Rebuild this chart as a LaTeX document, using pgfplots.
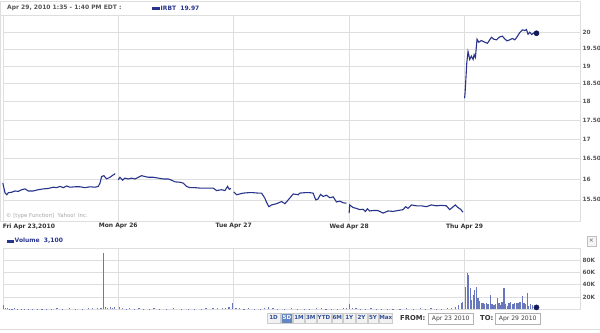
\documentclass[border=0pt]{standalone}
\usepackage{pgfplots}
\pgfplotsset{compat=1.18}
\usepackage{fontspec}
\setmainfont{DejaVu Sans}
\definecolor{pline}{RGB}{40,52,140}
\definecolor{pdot}{RGB}{20,26,90}
\definecolor{vbar}{RGB}{105,120,188}
\definecolor{gridc}{RGB}{222,222,222}
\definecolor{tickc}{RGB}{85,85,85}
\definecolor{btnblue}{RGB}{50,80,150}
\newcommand{\fs}[1]{\fontsize{#1bp}{#1bp}\selectfont}
\begin{document}
\begin{tikzpicture}
\path[use as bounding box] (0,0) rectangle (600bp,-333bp);
\fill[white] (0,0) rectangle (600bp,-333bp);
\begin{scope}[x=1bp,y=-1bp]
\draw[gridc] (0.5,1.5) rectangle (580,221);
\draw[gridc] (0.5,15) -- (580,15);
\node[anchor=west,text=tickc,inner sep=0] at (7,8) {\fs{6}\bfseries Apr 29, 2010 1:35 - 1:40 PM EDT :};
\fill[pline] (152,6.6) rectangle (160,9.6);
\node[anchor=west,text=pline,inner sep=0] at (160.5,8) {\fs{6}\bfseries IRBT\ \ 19.97};
\fill[pline] (7,239.8) rectangle (14,242.8);
\node[anchor=west,text=pline,inner sep=0] at (14.5,241) {\fs{6}\bfseries Volume\ \ 3,100};
\node[anchor=west,text=gray!70,inner sep=0] at (6,216.5) {\fs{5.4}© [type Function]\ \ Yahoo! Inc.};
\draw[gray!50,fill=gray!8] (587,236) rectangle (596,246);
\node[text=gray!70!black,inner sep=0] at (591.5,241) {\fs{6}×};
\draw[gridc] (0,329) -- (600,329);
% buttons
\foreach \a/\b/\t in {266.7/280.5/1D,293.5/304.5/1M,305.5/316/3M,317/331/YTD,332/342.5/6M,343.5/355/1Y,356/367/2Y,368/378/5Y,379/392.5/Max}{
  \draw[gray!40,fill=gray!10] (\a,312.7) rectangle (\b,322.7);
  \node[text=btnblue,inner sep=0] at ({(\a+\b)/2},317.9) {\fs{5.6}\bfseries \t};
}
\draw[gray!40,fill={rgb,255:red,100;green,135;blue,195}] (281.5,312.7) rectangle (292.5,322.7);
\node[text=white,inner sep=0] at (287,317.9) {\fs{5.6}\bfseries 5D};
\node[anchor=west,text=black!80,inner sep=0] at (400,318.5) {\fs{6.8}\bfseries FROM:};
\draw[gray!60] (428,313) rectangle (473.5,324);
\node[text=black!75,inner sep=0] at (450.7,318.7) {\fs{6.1}Apr 23 2010};
\node[anchor=west,text=black!80,inner sep=0] at (480,318.5) {\fs{6.8}\bfseries TO:};
\draw[gray!60] (495,313) rectangle (540.5,324);
\node[text=black!75,inner sep=0] at (517.7,318.7) {\fs{6.1}Apr 29 2010};
\end{scope}

\begin{axis}[at={(2.8bp,-15bp)}, anchor=north west, scale only axis,
  width=577.2bp, height=206bp,
  xmin=0, xmax=5, ymode=log, ymin=15.01, ymax=20.53,
  xtick={0,1,2,3,4},
  xticklabels={{\makebox[0pt][l]{Fri Apr 23,2010}},{Mon Apr 26},{Tue Apr 27},{Wed Apr 28},{Thu Apr 29}},
  ytick={15.5,16,16.5,17,17.5,18,18.5,19,19.5,20},
  yticklabels={15.50,16,16.50,17,17.50,18,18.50,19,19.50,20},
  yticklabel pos=right,
  grid=major, major grid style={gridc, line width=0.6bp},
  axis line style={gridc}, tick style={draw=none},
  xticklabel style={font=\fs{6}\bfseries, text=black!80, yshift=1bp},
  yticklabel style={font=\fs{5.8}\bfseries, text=tickc, anchor=west, xshift=-1bp},
  /pgf/number format/assume math mode=true,
  clip=false]
\addplot[pline, line width=1.1bp] coordinates {
(0.0,15.90)(0.02,15.66)(0.035,15.62)(0.048,15.67)(0.077,15.68)(0.106,15.71)(0.135,15.70)
(0.164,15.74)(0.192,15.76)(0.221,15.71)(0.264,15.71)(0.308,15.74)(0.351,15.76)(0.394,15.77)
(0.438,15.80)(0.466,15.79)(0.495,15.82)(0.524,15.79)(0.553,15.83)(0.582,15.80)(0.625,15.81)
(0.669,15.81)(0.712,15.79)(0.755,15.81)(0.799,15.80)(0.827,15.82)(0.842,15.90)(0.856,16.06)
(0.876,16.08)(0.899,16.00)(0.928,16.04)(0.957,16.10)(0.974,16.13)};
\addplot[pline, line width=1.1bp] coordinates {
(1.0,15.98)(1.015,16.04)(1.038,15.97)(1.058,16.02)(1.087,16.00)(1.116,16.02)(1.145,16.00)
(1.173,16.04)(1.202,16.08)(1.231,16.06)(1.260,16.04)(1.303,16.04)(1.347,16.02)(1.390,16.00)
(1.433,16.00)(1.462,15.97)(1.491,15.93)(1.534,15.92)(1.563,15.90)(1.592,15.82)(1.621,15.79)
(1.664,15.79)(1.707,15.78)(1.765,15.78)(1.823,15.78)(1.852,15.72)(1.895,15.74)(1.924,15.72)
(1.947,15.82)(1.962,15.75)(1.976,15.77)};
\addplot[pline, line width=1.1bp] coordinates {
(2.0,15.69)(2.025,15.62)(2.054,15.64)(2.083,15.66)(2.126,15.67)(2.170,15.67)(2.213,15.66)
(2.241,15.66)(2.270,15.54)(2.285,15.44)(2.305,15.34)(2.328,15.38)(2.372,15.41)(2.415,15.46)
(2.444,15.41)(2.473,15.50)(2.516,15.64)(2.559,15.62)(2.573,15.66)(2.616,15.67)(2.660,15.67)
(2.688,15.66)(2.711,15.50)(2.731,15.52)(2.752,15.63)(2.775,15.58)(2.804,15.61)(2.833,15.55)
(2.862,15.57)(2.891,15.45)(2.919,15.47)(2.948,15.43)(2.977,15.42)};
\addplot[pline, line width=1.1bp] coordinates {
(3.0,15.19)(3.005,15.38)(3.034,15.32)(3.063,15.30)(3.092,15.27)(3.120,15.28)(3.141,15.23)
(3.158,15.29)(3.178,15.24)(3.207,15.25)(3.250,15.25)(3.294,15.19)(3.337,15.24)(3.380,15.23)
(3.424,15.25)(3.467,15.27)(3.490,15.34)(3.510,15.30)(3.539,15.38)(3.582,15.36)(3.626,15.36)
(3.669,15.34)(3.712,15.38)(3.756,15.36)(3.799,15.37)(3.842,15.36)(3.871,15.27)(3.894,15.32)
(3.920,15.38)(3.943,15.32)(3.966,15.28)(3.986,15.21)};
\addplot[pline, line width=1.1bp] coordinates {
(4.0,18.09)(4.004,18.22)(4.010,18.54)(4.019,19.08)(4.030,19.42)(4.045,19.19)(4.059,19.29)
(4.074,19.19)(4.083,19.33)(4.094,19.25)(4.108,19.79)(4.123,19.70)(4.146,19.75)(4.175,19.70)
(4.198,19.67)(4.218,19.77)(4.233,19.85)(4.253,19.79)(4.276,19.77)(4.305,19.86)(4.328,19.88)
(4.348,19.80)(4.368,19.74)(4.391,19.77)(4.415,19.81)(4.435,19.77)(4.455,19.86)(4.478,19.99)
(4.501,20.07)(4.521,20.05)(4.536,20.08)(4.550,19.94)(4.565,20.00)(4.582,19.93)(4.600,19.98)
(4.623,19.97)};
\addplot[only marks, mark=*, mark size=2.6bp, pdot] coordinates {(4.623,19.97)};
\end{axis}

\begin{axis}[at={(2.8bp,-248bp)}, anchor=north west, scale only axis,
  width=577.2bp, height=61.3bp,
  xmin=0, xmax=5, ymin=0, ymax=100000,
  xtick={0,1,2,3,4}, xticklabels={},
  ytick={20000,40000,60000,80000,100000},
  yticklabels={20K,40K,60K,80K,},
  scaled y ticks=false,
  yticklabel pos=right,
  grid=major, major grid style={gridc, line width=0.6bp},
  axis line style={gridc}, tick style={draw=none},
  yticklabel style={font=\fs{5.8}\bfseries, text=tickc, anchor=west, xshift=-1bp},
  /pgf/number format/assume math mode=true,
  clip=false]
\addplot[ycomb, vbar, line width=1.2bp] coordinates {
(0.005,6500)(0.02,2000)(0.04,1500)(0.06,1200)(0.08,1000)(0.10,1500)(0.13,1000)(0.16,1200)
(0.19,800)(0.22,1000)(0.26,900)(0.30,1200)(0.34,800)(0.38,1000)(0.42,700)(0.47,1500)
(0.52,900)(0.58,1800)(0.63,800)(0.69,1200)(0.74,2000)(0.78,1500)(0.82,2500)(0.85,1800)
(0.870,92000)(0.89,3000)(0.91,2500)(0.93,3500)(0.95,2800)(0.97,4500)
(1.01,3000)(1.04,1500)(1.07,1200)(1.10,1800)(1.14,1000)(1.18,1500)(1.22,1200)(1.27,1000)
(1.31,1800)(1.36,800)(1.42,1200)(1.48,1500)(1.55,900)(1.61,1200)(1.66,1000)(1.72,900)
(1.76,1500)(1.82,1800)(1.86,2200)(1.90,1500)(1.93,2500)(1.96,3000)(1.99,9500)
(2.02,2500)(2.05,1800)(2.09,1200)(2.13,1500)(2.18,1000)(2.23,1200)(2.27,2500)(2.30,3500)
(2.34,1500)(2.38,1200)(2.44,1000)(2.50,1500)(2.55,800)(2.61,1000)(2.66,1200)(2.72,2000)
(2.76,1500)(2.80,1200)(2.85,1000)(2.90,1300)(2.95,1800)(2.98,2500)
(3.00,8500)(3.03,2000)(3.06,1500)(3.10,1200)(3.14,1000)(3.19,1500)(3.24,1200)(3.28,900)
(3.33,1000)(3.38,1200)(3.44,800)(3.50,1800)(3.56,1000)(3.62,2500)(3.66,1200)(3.71,1500)
(3.76,1000)(3.80,1200)(3.85,1800)(3.89,2500)
(3.924,4000)(3.950,7000)(3.973,11000)(3.984,12000)(4.010,37000)(4.025,58500)(4.036,56000)
(4.048,34000)(4.060,15000)(4.074,23000)(4.088,31000)(4.103,37000)(4.117,18000)(4.132,13500)
(4.146,11000)(4.160,10000)(4.175,8000)(4.189,10000)(4.203,8000)(4.227,23000)(4.238,8000)
(4.255,7000)(4.267,8000)(4.285,18000)(4.299,10000)(4.313,7000)(4.325,12000)(4.342,34000)
(4.354,8000)(4.371,6000)(4.385,10000)(4.400,12000)(4.420,8000)(4.435,10000)(4.449,11000)
(4.463,10000)(4.481,12000)(4.501,22000)(4.515,10000)(4.527,8000)(4.545,27000)(4.556,6000)
(4.573,8000)(4.590,7000)(4.608,6000)(4.623,3100)};
\addplot[only marks, mark=*, mark size=2.6bp, pdot] coordinates {(4.623,3100)};
\end{axis}
\end{tikzpicture}
\end{document}
